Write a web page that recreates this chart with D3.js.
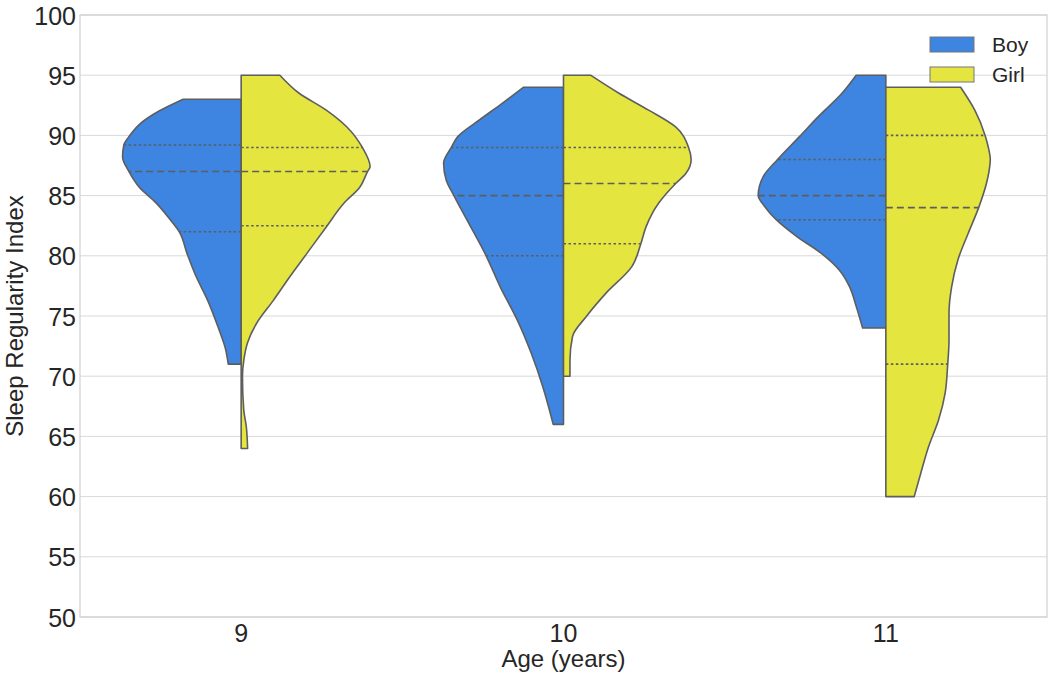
<!DOCTYPE html>
<html>
<head>
<meta charset="utf-8">
<script src="https://cdn.jsdelivr.net/npm/d3@7"></script>
<style>
  body { margin: 0; background: #fff; }
  svg { font-family: "Liberation Sans", Arial, sans-serif; }
</style>
</head>
<body>
<div id="chart"></div>
<script>
// Age groups and sexes
const ages = ["9", "10", "11"];
const sexes = ["Boy", "Girl"];
const colors = ["#3d85e0", "#e5e540"];
const yTicks = [50, 55, 60, 65, 70, 75, 80, 85, 90, 95, 100];

// Density profiles: [sleep regularity index, relative density]
const boy9 = [[93, .45], [92, .64], [91, .78], [89.9, .87], [89.2, .91], [88.2, .92], [87, .87], [85.7, .79], [84.4, .66],
    [83, .55], [82, .48], [80.2, .42], [78.3, .35], [76.3, .26], [74.1, .18], [72.2, .12], [71, .10]];
const girl9 = [[95, .30], [93.5, .45], [92.1, .66], [90.7, .82], [89, .94], [87.4, 1.0], [87, .98], [85.7, .92],
    [84.4, .80], [82.4, .66], [80.2, .51], [78.3, .38], [76.3, .25], [74.4, .12], [72.8, .05], [71.3, .02],
    [70, .01], [67.2, .02], [65.8, .04], [64, .05]];
const boy10 = [[94, .31], [92.7, .47], [91.3, .65], [89.9, .82], [89, .87], [87.7, .93], [86.3, .91], [85, .85],
    [83, .75], [80, .60], [77.4, .49], [74.7, .36], [71.9, .25], [69.1, .16], [66, .08]];
const girl10 = [[95, .21], [93.5, .43], [92.1, .66], [90.7, .87], [89, .97], [88, .99], [86.85, .95], [86, .87],
    [84.4, .74], [82.4, .64], [81, .60], [79.1, .53], [76.9, .33], [75, .18], [73.3, .07], [71.3, .05], [70, .05]];
const boy11 = [[95, .23], [93.5, .34], [91.6, .52], [89.9, .67], [88, .84], [86.6, .95], [85, .99], [84.1, .94],
    [83, .85], [81.6, .69], [80.2, .50], [78.8, .36], [77.4, .28], [75.8, .23], [74, .18]];
const girl11 = [[94, .58], [92.1, .69], [90, .77], [89, .795], [88, .81], [87, .80], [86, .78], [84, .72], [81.9, .64],
    [79.7, .56], [77.4, .51], [75.2, .49], [73, .49], [71, .48], [68.6, .46], [66.4, .41], [64.1, .33], [61.9, .27], [60, .22]];

// Quartiles [q1, median, q3]
const boyQuartiles = [[82, 87, 89.2], [80, 85, 89], [83, 85, 88]];
const girlQuartiles = [[82.5, 87, 89], [81, 86, 89], [71, 84, 90]];

const profiles = [[boy9, girl9], [boy10, girl10], [boy11, girl11]];
const quartiles = [boyQuartiles, girlQuartiles];

const width = 1051, height = 673;
const margin = {top: 15, right: 4, bottom: 56, left: 80};
const innerW = width - margin.left - margin.right;
const innerH = height - margin.top - margin.bottom;

let svg = d3.select("#chart")
    .append("svg")
    .attr("width", width)
    .attr("height", height)
    .append("g")
    .attr("transform", `translate(${margin.left}, ${margin.top})`);

let x = d3.scaleBand().domain(ages).range([0, innerW]).padding(0);
let y = d3.scaleLinear().domain([50, 100]).range([innerH, 0]);
let w = d3.scaleLinear().domain([0, 1]).range([0, x.bandwidth() * 0.4]);

// Gridlines
svg.selectAll(".grid")
    .data(yTicks)
    .enter()
    .append("line")
    .attr("x1", 0)
    .attr("x2", innerW)
    .attr("y1", d => y(d))
    .attr("y2", d => y(d))
    .style("stroke", "#d9d9d9")
    .style("stroke-width", 1);

// Frame
svg.append("rect")
    .attr("width", innerW)
    .attr("height", innerH)
    .style("fill", "none")
    .style("stroke", "#d0d0d0")
    .style("stroke-width", 1.2);

// Width of the density at a value, by linear interpolation of the profile
function widthAt(profile, v) {
    for (let i = 0; i < profile.length - 1; i++) {
        const a = profile[i], b = profile[i + 1];
        if (v <= a[0] && v >= b[0]) {
            const t = (a[0] - v) / (a[0] - b[0]);
            return a[1] + t * (b[1] - a[1]);
        }
    }
    return 0;
}

ages.forEach(function (age, i) {
    const cx = x(age) + x.bandwidth() / 2;
    sexes.forEach(function (sex, j) {
        const profile = profiles[i][j];
        const side = j === 0 ? -1 : 1;
        // monotone curve wants ascending values
        const sorted = profile.slice().sort((a, b) => a[0] - b[0]);
        let area = d3.area()
            .y(d => y(d[0]))
            .x0(cx)
            .x1(d => cx + side * w(d[1]))
            .curve(d3.curveMonotoneY);
        svg.append("path")
            .datum(sorted)
            .attr("d", area)
            .style("fill", colors[j])
            .style("stroke", "#5e5e5e")
            .style("stroke-width", 1.6)
            .style("stroke-linejoin", "round");

        // Quartile lines
        quartiles[j][i].forEach(function (q, k) {
            svg.append("line")
                .attr("x1", cx)
                .attr("x2", cx + side * w(widthAt(profile, q)))
                .attr("y1", y(q))
                .attr("y2", y(q))
                .style("stroke", "#5e5e5e")
                .style("stroke-width", 1.6)
                .style("stroke-dasharray", k === 1 ? "7,4" : "2.5,2.5");
        });
    });
});

// Y axis labels
svg.selectAll(".ytick")
    .data(yTicks)
    .enter()
    .append("text")
    .attr("x", -4)
    .attr("y", d => y(d))
    .attr("dy", "0.38em")
    .style("text-anchor", "end")
    .style("font-size", "25px")
    .style("fill", "#262626")
    .text(d => d);

// X axis labels
svg.selectAll(".xtick")
    .data(ages)
    .enter()
    .append("text")
    .attr("x", d => x(d) + x.bandwidth() / 2)
    .attr("y", innerH + 25)
    .style("text-anchor", "middle")
    .style("font-size", "25px")
    .style("fill", "#262626")
    .text(d => d);

// Axis titles
svg.append("text")
    .attr("x", innerW / 2)
    .attr("y", innerH + 50)
    .style("text-anchor", "middle")
    .style("font-size", "24px")
    .style("fill", "#262626")
    .text("Age (years)");

svg.append("text")
    .attr("transform", `translate(${-57}, ${innerH / 2}) rotate(-90)`)
    .style("text-anchor", "middle")
    .style("font-size", "24px")
    .style("fill", "#262626")
    .text("Sleep Regularity Index");

// Legend
let legend = svg.selectAll(".legend")
    .data(sexes)
    .enter()
    .append("g")
    .attr("transform", (d, i) => `translate(${850}, ${22 + i * 30})`);

legend.append("rect")
    .attr("width", 44)
    .attr("height", 15)
    .style("fill", (d, i) => colors[i])
    .style("stroke", "#777")
    .style("stroke-width", 1);

legend.append("text")
    .attr("x", 62)
    .attr("y", 8)
    .attr("dy", "0.35em")
    .style("font-size", "21px")
    .style("fill", "#262626")
    .text(d => d);
</script>
</body>
</html>
